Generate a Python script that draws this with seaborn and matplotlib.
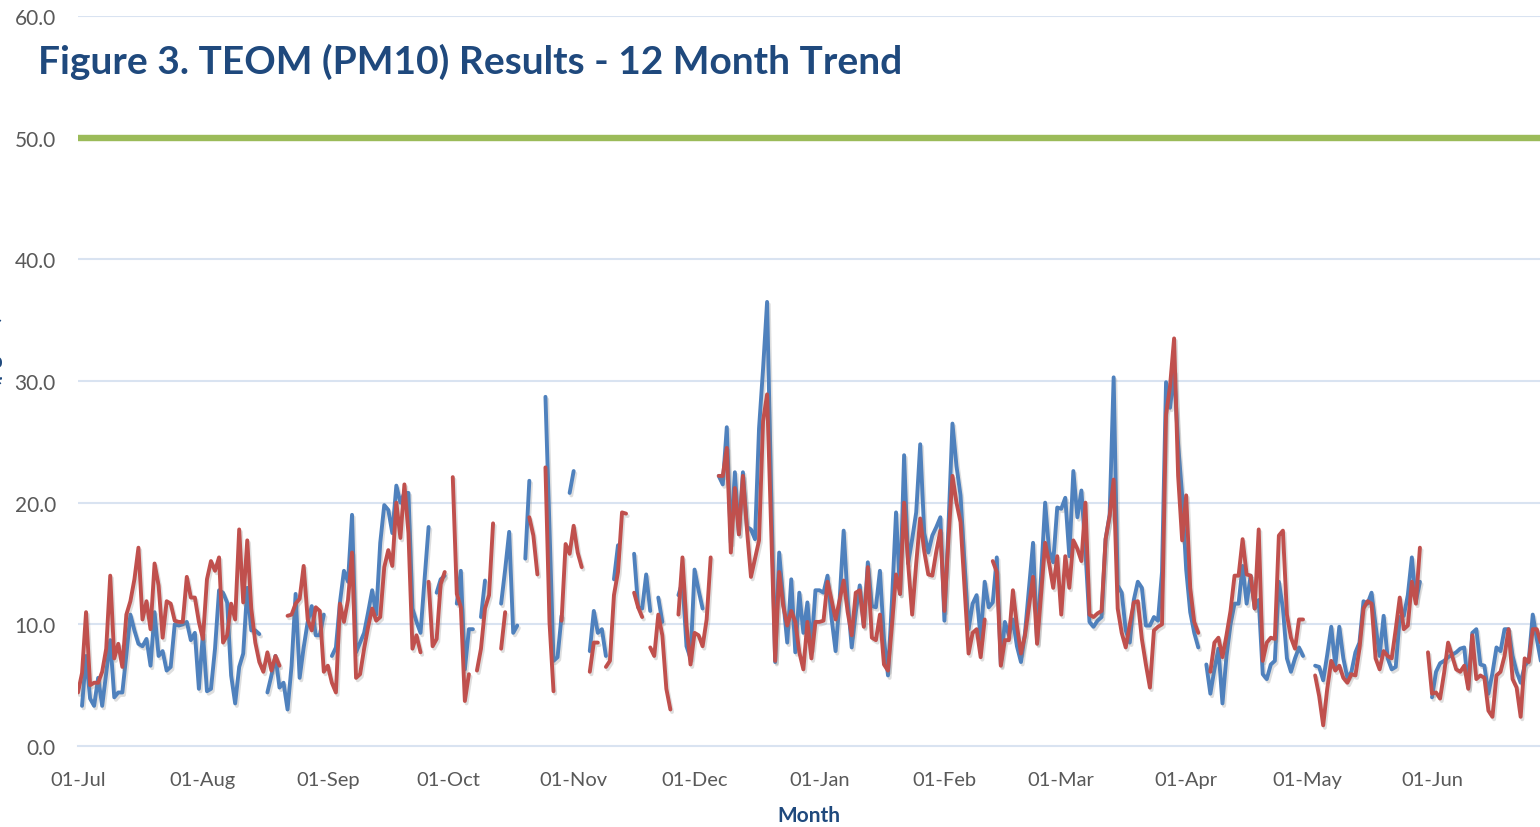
import matplotlib
matplotlib.use('Agg')
import matplotlib.pyplot as plt
import matplotlib.dates as mdates
import matplotlib.patheffects as pe
from matplotlib.ticker import FormatStrFormatter
import seaborn as sns
import pandas as pd
import numpy as np

nan = np.nan

# Période : 01-Jul-2019 -> 30-Jun-2020 (une valeur par jour)
start_date = '2019-07-01'
visible_days = 362.8   # le graphique d'origine est coupé à droite vers le 27 juin
standard_limit = 50.0

title_text = 'Figure 3. TEOM (PM10) Results - 12 Month Trend'
x_label = 'Month'
y_label = 'PM10 (µg/m³)'
y_ticks = [0, 10, 20, 30, 40, 50, 60]

series_names = ['TEOM A', 'TEOM B']
series_colors = ['#4F81BD', '#C0504D']

# Série bleue, un tableau par mois (µg/m³)
blue_jul = [nan, 3.3, 7.4, 3.9, 3.3, 5.6, 3.3, 6.0, 8.7, 4.0, 4.4, 4.4, 7.5, 10.8, 9.5, 8.4, 8.2, 8.8, 6.6, 11.0, 7.4, 7.8, 6.2, 6.5, 10.0, 9.9, 10.0, 10.2, 8.7, 9.3, 4.7]
blue_aug = [9.3, 4.5, 4.7, 8.0, 12.8, 12.6, 11.8, 5.8, 3.5, 6.5, 7.6, 13.0, 9.5, 9.5, 9.2, nan, 4.4, 5.8, 7.4, 4.8, 5.2, 3.0, 6.6, 12.5, 5.6, 8.1, 10.2, 11.5, 9.1, 9.1, 10.8]
blue_sep = [nan, 7.4, 8.1, 11.8, 14.4, 13.5, 19.0, 7.7, 8.5, 9.3, 11.0, 12.8, 10.8, 16.7, 19.8, 19.4, 17.5, 21.4, 20.0, 20.8, 20.8, 11.3, 10.2, 9.3, 13.7, 18.0, nan, 12.6, 13.7, 14.0]
blue_oct = [nan, nan, 11.7, 14.4, 6.3, 9.6, 9.6, nan, 10.6, 13.6, nan, nan, nan, 11.7, 14.5, 17.6, 9.3, 9.9, nan, 15.4, 21.8, nan, nan, nan, 28.7, 17.9, 7.0, 7.3, 10.7, nan, 20.8]
blue_nov = [22.6, nan, nan, nan, 7.8, 11.1, 9.3, 9.6, 7.4, nan, 13.7, 16.5, nan, nan, nan, 15.8, 11.4, 11.3, 14.1, 11.1, nan, 12.2, 10.2, nan, nan, nan, 12.4, 13.5, 8.2, 7.2]
blue_dec = [14.5, 12.8, 11.3, nan, nan, nan, 22.2, 21.5, 26.2, 16.7, 22.5, 17.4, 22.5, 18.0, 17.8, 17.0, 26.1, 31.0, 36.5, 21.0, 6.9, 15.9, 12.0, 8.5, 13.7, 7.7, 12.6, 9.3, 11.8, 8.0, 12.8]
blue_jan = [12.8, 12.6, 14.0, 10.5, 7.8, 12.0, 17.7, 12.0, 8.1, 11.0, 13.2, 9.9, 15.1, 11.5, 11.4, 14.4, 8.8, 5.8, 12.0, 19.2, 12.5, 23.9, 15.0, 17.0, 19.2, 24.8, 17.5, 15.9, 17.3, 18.0, 18.8]
blue_feb = [10.3, 18.0, 26.5, 23.0, 20.6, 15.0, 9.6, 11.7, 12.4, 8.8, 13.5, 11.4, 11.8, 15.5, 6.7, 10.2, 9.1, 10.4, 8.2, 6.9, 9.3, 13.0, 16.7, 8.5, 14.0, 20.0, 16.0, 15.1, 19.6]
blue_mar = [19.5, 20.4, 15.6, 22.6, 18.8, 21.0, 16.0, 10.2, 9.8, 10.3, 10.6, 17.0, 19.0, 30.3, 13.2, 12.6, 9.5, 8.5, 12.0, 13.5, 13.0, 9.9, 9.9, 10.6, 10.3, 14.3, 29.9, 27.8, 30.8, 24.8, 20.6]
blue_apr = [14.5, 11.0, 9.3, 8.1, nan, 6.7, 4.3, 6.3, 8.0, 3.5, 7.4, 10.0, 11.7, 11.7, 14.8, 11.7, 14.0, 11.3, 12.0, 5.9, 5.5, 6.7, 7.0, 13.5, 11.3, 7.2, 6.1, 7.2, 8.1, 7.4]
blue_may = [nan, nan, 6.6, 6.5, 5.4, 7.5, 9.8, 6.6, 9.8, 7.2, 5.6, 6.1, 7.7, 8.5, 11.9, 11.7, 12.6, 9.9, 7.4, 10.7, 7.2, 6.3, 6.5, 10.6, 10.7, 12.4, 15.5, 11.9, 13.5, nan, nan]
blue_jun = [4.0, 6.1, 6.8, 7.0, 7.3, 7.5, 7.7, 8.0, 8.1, 4.8, 9.3, 9.6, 6.7, 6.6, 4.3, 6.0, 8.1, 7.8, 9.6, 9.6, 7.4, 6.1, 5.2, 6.6, 7.0, 10.8, 8.8, 7.0, 7.2, 7.5]

# Série rouge
red_jul = [4.4, 6.0, 11.0, 5.0, 5.2, 5.2, 6.1, 8.0, 14.0, 7.2, 8.4, 6.5, 10.8, 11.9, 13.7, 16.3, 10.4, 11.9, 9.6, 15.0, 13.2, 8.9, 11.9, 11.7, 10.3, 10.2, 10.2, 13.9, 12.2, 12.2, 10.2]
red_aug = [8.8, 13.7, 15.2, 14.4, 15.5, 8.5, 9.1, 11.7, 10.4, 17.8, 11.8, 16.9, 11.3, 8.5, 6.9, 6.1, 7.7, 6.2, 7.4, 6.6, nan, 10.7, 10.8, 11.7, 12.1, 14.8, 10.4, 9.5, 11.4, 11.1, 6.1]
red_sep = [6.6, 5.2, 4.4, 11.7, 10.2, 12.0, 15.9, 5.6, 5.9, 8.0, 9.8, 11.3, 10.3, 10.6, 14.7, 16.1, 14.8, 20.0, 17.1, 21.5, 17.5, 8.0, 9.1, 7.7, nan, 13.5, 8.2, 8.8, 13.3, 14.3]
red_oct = [nan, 22.1, 12.5, 11.4, 3.7, 5.9, nan, 6.2, 8.0, 11.3, 12.4, 18.3, nan, 8.0, 11.0, nan, nan, nan, nan, nan, 18.8, 17.3, 14.1, nan, 22.9, 10.2, 4.5, nan, 10.3, 16.6, 15.8]
red_nov = [18.1, 15.9, 14.7, nan, 6.1, 8.5, 8.5, nan, 6.5, 7.0, 12.4, 14.3, 19.2, 19.1, nan, 12.6, 11.4, 10.6, nan, 8.1, 7.4, 10.8, 9.1, 4.7, 3.0, nan, 10.8, 15.5, 9.9, 6.7]
red_dec = [9.3, 9.1, 8.2, 10.4, 15.5, nan, 22.2, 22.2, 24.5, 15.9, 21.2, 17.4, 22.2, 17.8, 13.9, 15.4, 16.9, 26.7, 28.9, 18.0, 7.0, 14.3, 11.5, 9.9, 11.1, 10.2, 7.7, 6.3, 10.2, 7.2, 10.2]
red_jan = [10.2, 10.3, 13.5, 12.0, 10.4, 12.0, 13.6, 11.0, 9.1, 12.6, 12.8, 9.8, 14.7, 8.9, 8.7, 10.8, 6.7, 6.2, 10.0, 14.1, 12.5, 20.0, 15.0, 10.8, 15.0, 18.7, 16.0, 14.1, 14.0, 16.0, 17.7]
red_feb = [11.1, 17.0, 22.2, 20.0, 18.4, 13.0, 7.6, 9.3, 9.6, 7.3, 10.4, nan, 15.2, 14.3, 6.6, 8.7, 8.7, 12.8, 9.9, 7.6, 9.1, 11.5, 13.9, 8.4, 12.5, 16.7, 15.0, 13.0, 15.6]
red_mar = [10.8, 15.6, 13.0, 16.9, 16.2, 15.2, 20.0, 10.8, 10.6, 10.9, 11.1, 17.0, 18.9, 21.9, 11.3, 9.3, 8.1, 10.0, 11.8, 11.9, 8.8, 6.7, 4.8, 9.5, 9.8, 10.0, 27.2, 29.6, 33.5, 22.2, 16.9]
red_apr = [20.6, 13.0, 10.2, 9.3, nan, nan, 6.1, 8.5, 8.9, 7.3, 9.1, 11.1, 14.0, 14.0, 17.0, 14.1, 14.0, 11.3, 17.8, 7.0, 8.5, 8.9, 8.8, 17.3, 17.7, 10.8, 8.9, 8.0, 10.4, 10.4]
red_may = [nan, nan, 5.8, 4.1, 1.7, 4.7, 7.0, 6.2, 6.6, 5.6, 5.2, 5.9, 5.8, 8.0, 11.3, 11.9, 11.7, 7.2, 6.3, 7.8, 7.4, 7.2, 9.6, 12.2, 9.6, 9.9, 13.5, 11.7, 16.3, nan, 7.7]
red_jun = [4.3, 4.4, 3.9, 6.0, 8.5, 7.4, 6.3, 6.1, 6.6, 4.7, 9.1, 5.5, 5.8, 5.6, 2.9, 2.4, 5.8, 6.1, 7.4, 9.6, 5.5, 4.8, 2.4, 7.2, 6.9, 9.6, 9.6, 8.5, 8.0, 8.2]

blue_values = (blue_jul + blue_aug + blue_sep + blue_oct + blue_nov + blue_dec
               + blue_jan + blue_feb + blue_mar + blue_apr + blue_may + blue_jun)
red_values = (red_jul + red_aug + red_sep + red_oct + red_nov + red_dec
              + red_jan + red_feb + red_mar + red_apr + red_may + red_jun)


def build_frame():
    """
    Table longue : un segment par période continue (les trous restent des trous)
    """
    dates = pd.date_range(start_date, periods=len(blue_values), freq='D')
    frames = []
    for name, values in zip(series_names, [blue_values, red_values]):
        vals = pd.Series(values, dtype=float)
        segment = vals.isna().cumsum()
        df = pd.DataFrame({'date': dates, 'pm10': vals.values,
                           'series': name, 'segment': segment.values})
        df = df.dropna(subset=['pm10'])
        df['unit'] = name + '_' + df['segment'].astype(str)
        frames.append(df)
    return pd.concat(frames, ignore_index=True)


sns.set_style('white')
plt.rcParams['font.family'] = ['Lato', 'DejaVu Sans']

data = build_frame()

fig = plt.figure(figsize=(15.4, 8.28), dpi=100)
ax = fig.add_axes([78 / 1540, 1 - 747 / 828, 1 - 78 / 1540, (747 - 17) / 828])

grid_color = '#D9E3F1'
for y in y_ticks[1:]:
    ax.axhline(y, color=grid_color, lw=1.5, zorder=0)

# Valeur limite
ax.axhline(standard_limit, color='#9BBB59', lw=4.6, zorder=1)

shadow = [pe.SimpleLineShadow(offset=(1.2, -1.8), shadow_color='#7f7f7f', alpha=0.25), pe.Normal()]
sns.lineplot(data=data, x='date', y='pm10', hue='series', units='unit', estimator=None,
             palette=dict(zip(series_names, series_colors)), hue_order=series_names,
             lw=2.8, legend=False, ax=ax, path_effects=shadow, zorder=3)

start = pd.Timestamp(start_date)
ax.set_xlim(start, start + pd.Timedelta(days=visible_days))
ax.set_ylim(0, 60)
ax.set_yticks(y_ticks)
ax.yaxis.set_major_formatter(FormatStrFormatter('%.1f'))
ax.xaxis.set_major_locator(mdates.MonthLocator())
ax.xaxis.set_major_formatter(mdates.DateFormatter('%d-%b'))

for side in ['left', 'right', 'top']:
    ax.spines[side].set_visible(False)
ax.spines['bottom'].set_color(grid_color)
ax.spines['bottom'].set_linewidth(1.5)

ax.tick_params(axis='y', length=0, pad=16, labelsize=15, labelcolor='#595959')
ax.tick_params(axis='x', length=6, width=1.5, color=grid_color, pad=12,
               labelsize=14.5, labelcolor='#595959')

ax.set_xlabel(x_label, fontsize=15, fontweight='bold', color='#1F497D', labelpad=12)
ax.set_ylabel(y_label, fontsize=15, fontweight='bold', color='#1F497D')
ax.yaxis.set_label_coords(-0.0513, 0.5)

fig.text(38 / 1540, 1 - 62 / 828, title_text, fontsize=28, fontweight='bold',
         color='#1F497D', ha='left', va='center')

fig.savefig('out.png', dpi=100)
